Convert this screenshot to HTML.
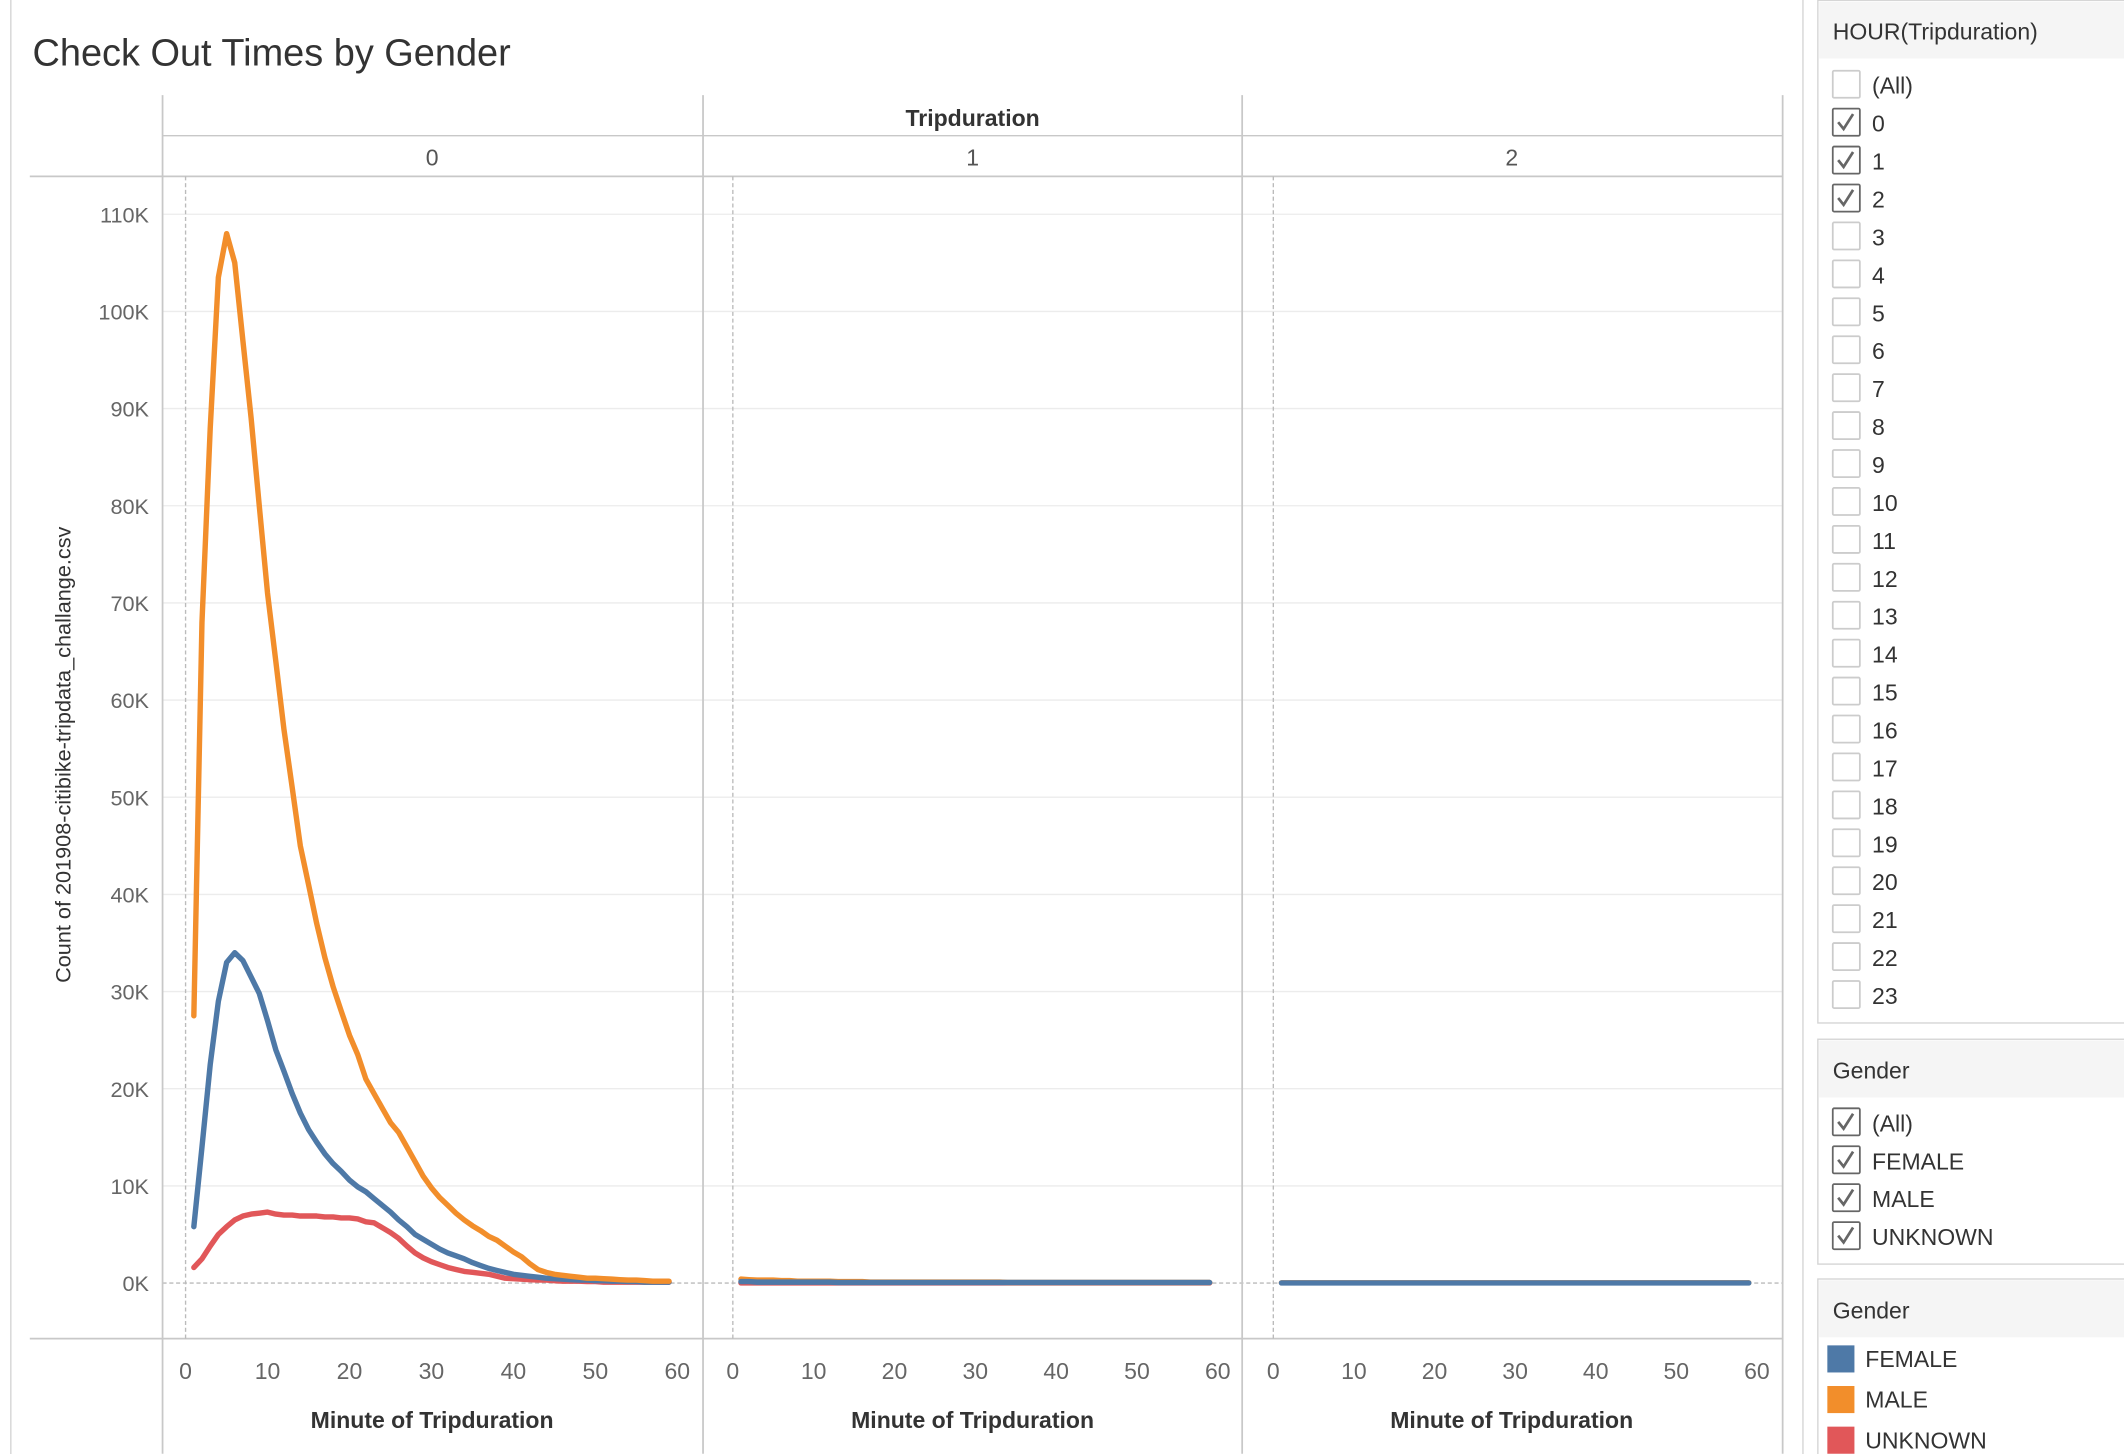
<!DOCTYPE html>
<html><head><meta charset="utf-8"><style>
html,body{margin:0;padding:0;background:#fff;}
svg{display:block;font-family:"Liberation Sans",sans-serif;}
</style></head><body>
<svg id="c" width="2124" height="1454" viewBox="0 0 1568 1073">
<rect x="0" y="0" width="1568" height="1073" fill="#fff"/>
<rect x="8" y="-2" width="1323" height="1080" fill="none" stroke="#d4d4d4"/>
<text x="24" y="48" font-size="28" fill="#333">Check Out Times by Gender</text>
<g id="frame"></g>
<g id="marks"></g>
<g id="side"></g>
</svg>
<script>
const hourPanels = ["0","1","2"];
const minutes = [1,2,3,4,5,6,7,8,9,10,11,12,13,14,15,16,17,18,19,20,21,22,23,24,25,26,27,28,29,30,31,32,33,34,35,36,37,38,39,40,41,42,43,44,45,46,47,48,49,50,51,52,53,54,55,56,57,58,59];
const male0 = [27.5,68,88,103.5,108,105,97,89,80,71,64,57,51,45,41,37,33.5,30.5,28,25.5,23.5,21,19.5,18,16.5,15.5,14,12.5,11,9.8,8.8,8,7.2,6.5,5.9,5.4,4.8,4.4,3.8,3.2,2.7,2,1.4,1.1,0.9,0.8,0.7,0.6,0.5,0.5,0.45,0.4,0.35,0.3,0.3,0.25,0.2,0.2,0.2];
const female0 = [5.8,14,22.5,29,33,34,33.2,31.5,29.8,27,24,21.8,19.5,17.5,15.8,14.5,13.3,12.3,11.5,10.6,9.9,9.4,8.7,8,7.3,6.5,5.8,5,4.5,4,3.5,3.1,2.8,2.5,2.1,1.8,1.5,1.3,1.1,0.9,0.8,0.7,0.6,0.5,0.45,0.4,0.35,0.3,0.3,0.25,0.25,0.2,0.2,0.15,0.15,0.1,0.1,0.1,0.1];
const unknown0 = [1.6,2.5,3.8,5,5.8,6.5,6.9,7.1,7.2,7.3,7.1,7,7,6.9,6.9,6.9,6.8,6.8,6.7,6.7,6.6,6.3,6.2,5.7,5.2,4.6,3.8,3.1,2.6,2.2,1.9,1.6,1.4,1.2,1.1,1,0.9,0.7,0.5,0.45,0.4,0.35,0.3,0.3,0.25,0.2,0.2,0.2,0.15,0.15,0.1,0.1,0.1,0.1,0.1,0.1,0.1,0.1,0.1];
const male1 = [0.4,0.35,0.3,0.3,0.3,0.25,0.25,0.2,0.2,0.2,0.2,0.2,0.15,0.15,0.15,0.15,0.1,0.1,0.1,0.1,0.1,0.1,0.1,0.1,0.1,0.1,0.1,0.1,0.1,0.1,0.1,0.1,0.1,0.05,0.05,0.05,0.05,0.05,0.05,0.05,0.05,0.05,0.05,0.05,0.05,0.05,0.05,0.05,0.05,0.05,0.05,0.05,0.05,0.05,0.05,0.05,0.05,0.05,0.05];
const female1 = [0.15,0.15,0.1,0.1,0.1,0.1,0.1,0.1,0.1,0.1,0.1,0.1,0.05,0.05,0.05,0.05,0.05,0.05,0.05,0.05,0.05,0.05,0.05,0.05,0.05,0.05,0.05,0.05,0.05,0.05,0.05,0.05,0.05,0.05,0.05,0.05,0.05,0.05,0.05,0.05,0.05,0.05,0.05,0.05,0.05,0.05,0.05,0.05,0.05,0.05,0.05,0.05,0.05,0.05,0.05,0.05,0.05,0.05,0.05];
const male2 = [0.03,0.03,0.03,0.03,0.03,0.03,0.03,0.03,0.03,0.03,0.03,0.03,0.03,0.03,0.03,0.03,0.03,0.03,0.03,0.03,0.03,0.03,0.03,0.03,0.03,0.03,0.03,0.03,0.03,0.03,0.03,0.03,0.03,0.03,0.03,0.03,0.03,0.03,0.03,0.03,0.03,0.03,0.03,0.03,0.03,0.03,0.03,0.03,0.03,0.03,0.03,0.03,0.03,0.03,0.03,0.03,0.03,0.03,0.03];
const female2 = [0.02,0.02,0.02,0.02,0.02,0.02,0.02,0.02,0.02,0.02,0.02,0.02,0.02,0.02,0.02,0.02,0.02,0.02,0.02,0.02,0.02,0.02,0.02,0.02,0.02,0.02,0.02,0.02,0.02,0.02,0.02,0.02,0.02,0.02,0.02,0.02,0.02,0.02,0.02,0.02,0.02,0.02,0.02,0.02,0.02,0.02,0.02,0.02,0.02,0.02,0.02,0.02,0.02,0.02,0.02,0.02,0.02,0.02,0.02];
const unknown1 = [0.02,0.02,0.02,0.02,0.02,0.02,0.02,0.02,0.02,0.02,0.02,0.02,0.02,0.02,0.02,0.02,0.02,0.02,0.02,0.02,0.02,0.02,0.02,0.02,0.02,0.02,0.02,0.02,0.02,0.02,0.02,0.02,0.02,0.02,0.02,0.02,0.02,0.02,0.02,0.02,0.02,0.02,0.02,0.02,0.02,0.02,0.02,0.02,0.02,0.02,0.02,0.02,0.02,0.02,0.02,0.02,0.02,0.02,0.02];
const yTicks = [0,10,20,30,40,50,60,70,80,90,100,110];
const yTickLabels = ["0K","10K","20K","30K","40K","50K","60K","70K","80K","90K","100K","110K"];
const xTicks = [0,10,20,30,40,50,60];
const hours = ["(All)","0","1","2","3","4","5","6","7","8","9","10","11","12","13","14","15","16","17","18","19","20","21","22","23"];
const hoursChecked = ["0","1","2"];
const genders = ["FEMALE","MALE","UNKNOWN"];
const genderColors = ["#4e79a7","#f28e2b","#e15759"];

const NS="http://www.w3.org/2000/svg";
function mk(tag,attrs,parent,txt){const e=document.createElementNS(NS,tag);for(const k in attrs)e.setAttribute(k,attrs[k]);if(txt!==undefined)e.textContent=txt;parent.appendChild(e);return e;}
const frame=document.getElementById('frame'), marks=document.getElementById('marks'), side=document.getElementById('side');
const panelX0=[137,541,940], panelX60=[500,899,1297];
const y=v=>947-v*7.173;
const xf=(p,m)=>panelX0[p]+(panelX60[p]-panelX0[p])*m/60;

yTicks.forEach((t,i)=>{
  if(t>0){const g=mk('line',{x1:120,x2:1316,y1:y(t),y2:y(t),stroke:'#ececec','stroke-width':1},frame);
  
  }
  const l=mk('text',{x:110,y:y(t)+6,'font-size':16,fill:'#666','text-anchor':'end'},frame,yTickLabels[i]);
  
  
});
mk('line',{x1:120,x2:1316,y1:947,y2:947,stroke:'#bbb','stroke-dasharray':'3,2'},frame);
[120,519,917,1316].forEach(x=>mk('line',{x1:x,x2:x,y1:70,y2:1073,stroke:'#c8c8c8','stroke-width':1.3},frame));
mk('line',{x1:120,x2:1316,y1:100,y2:100,stroke:'#c8c8c8'},frame);
mk('line',{x1:22,x2:1316,y1:130,y2:130,stroke:'#c8c8c8','stroke-width':1.3},frame);
mk('line',{x1:22,x2:1316,y1:988,y2:988,stroke:'#c8c8c8','stroke-width':1.3},frame);
let tt=mk('text',{x:718,y:93,'font-size':17,fill:'#333','text-anchor':'middle','font-weight':'bold'},frame,'Tripduration');


let yt=mk('text',{x:52,y:557,'font-size':16,fill:'#333','text-anchor':'middle',transform:'rotate(-90 52 557)'},frame,'Count of 201908-citibike-tripdata_challange.csv');


hourPanels.forEach((h,p)=>{
  const cx=[319,718,1116][p];
  const ht=mk('text',{x:cx,y:122,'font-size':17,fill:'#555','text-anchor':'middle'},frame,h);
  
  
  mk('line',{x1:panelX0[p],x2:panelX0[p],y1:130,y2:988,stroke:'#bbb','stroke-dasharray':'3,2'},frame);
  xTicks.forEach(t=>{const l=mk('text',{x:xf(p,t),y:1018,'font-size':17,fill:'#666','text-anchor':'middle'},frame,t);
    
    });
  const xt=mk('text',{x:cx,y:1054,'font-size':17,fill:'#333','text-anchor':'middle','font-weight':'bold'},frame,'Minute of Tripduration');
  
  
});
const series=[[0,unknown0,2],[0,female0,0],[0,male0,1],[1,unknown1,2],[1,male1,1],[1,female1,0],[2,male2,1],[2,female2,0]];
series.forEach(([p,vals,c])=>{
  const d=minutes.map((m,i)=>(i?'L':'M')+xf(p,m).toFixed(1)+','+y(vals[i]).toFixed(1)).join('');
  const pth=mk('path',{d:d,fill:'none',stroke:genderColors[c],'stroke-width':4,'stroke-linejoin':'round','stroke-linecap':'round'},marks);
  
  
});
function card(y0,h,title){
  mk('rect',{x:1342,y:y0,width:240,height:h,fill:'#fff',stroke:'#d4d4d4'},side);
  mk('rect',{x:1343,y:y0+1,width:230,height:42,fill:'#f5f5f5'},side);
  const t=mk('text',{x:1353,y:y0+29,'font-size':17,fill:'#333'},side,title);
  
  
}
function checkbox(yc,label,checked){
  const b=mk('rect',{x:1353,y:yc-10,width:20,height:20,fill:'#fff',stroke:checked?'#666':'#ccc','stroke-width':1.3,rx:1},side);
  
  
  if(checked)mk('path',{d:`M1357,${yc} L1361,${yc+5} L1368,${yc-6}`,fill:'none',stroke:'#666','stroke-width':2},side);
  const t=mk('text',{x:1382,y:yc+7,'font-size':17,fill:'#333'},side,label);
  
  
}
card(0,755,'HOUR(Tripduration)');
hours.forEach((h,i)=>checkbox(62+i*28,h,hoursChecked.includes(h)));
card(767,166,'Gender');
["(All)"].concat(genders).forEach((g,i)=>checkbox(828+i*28,g,true));
card(944,140,'Gender');
genders.forEach((g,i)=>{
  const sw=mk('rect',{x:1349,y:993+i*30,width:20,height:20,fill:genderColors[i]},side);
  
  
  const t=mk('text',{x:1377,y:1009+i*30,'font-size':17,fill:'#333'},side,g);
  
  
});
</script>
</body></html>
